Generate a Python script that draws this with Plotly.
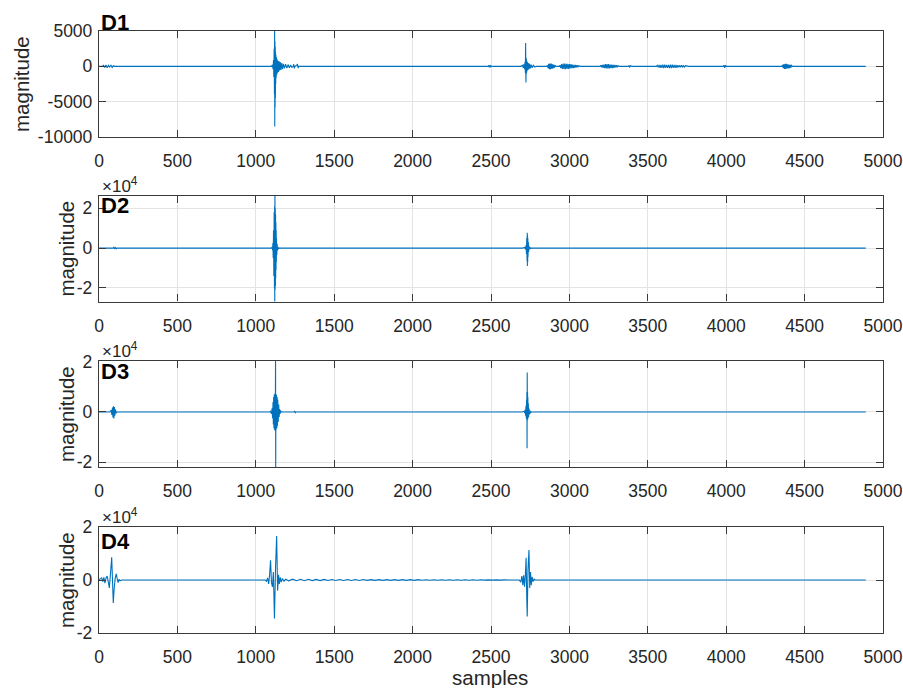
import plotly.graph_objects as go

# ---------------- data ----------------
# D1 bursts (sample index, magnitude)
d1_b0_x = [0, 20, 28, 36, 44, 52, 60, 68, 76, 84, 92, 100]
d1_b0_y = [0, 0, 150, -150, 200, -200, 150, -100, 150, -150, 100, 0]
d1_b1_x = [1100, 1106, 1110, 1113, 1115, 1117, 1119, 1120, 1121, 1122, 1123, 1124, 1125, 1126, 1127, 1128]
d1_b1_y = [0, 200, -400, 900, -1500, 2500, -4000, 5300, -8500, 3600, -5800, 2800, -4500, 2000, -2500, 1600]
d1_b2_x = [1130, 1132, 1134, 1136, 1139, 1142, 1145, 1148, 1152, 1156, 1160, 1165, 1170, 1176, 1182,
           1190, 1198, 1206, 1214, 1222, 1230, 1238, 1242, 1246, 1250, 1266, 1270, 1274, 1290]
d1_b2_y = [-1600, 1300, -1200, 1000, -900, 800, -800, 700, -600, 600, -500, 450, -400, 350, -300,
           300, -250, 250, -200, 200, -150, 0, 300, -300, 0, 250, -250, 0, 0]
d1_b3_x = [2480, 2486, 2489, 2492, 2495, 2498, 2504]
d1_b3_y = [0, 150, -150, 150, -150, 100, 0]
d1_b4_x = [2690, 2700, 2706, 2710, 2714, 2717, 2719, 2720, 2721, 2722, 2723, 2724, 2725, 2726, 2727, 2728,
           2730, 2732, 2735, 2738, 2742, 2746, 2750, 2756, 2762, 2770, 2780, 2790]
d1_b4_y = [0, 150, -200, 300, -400, 600, -900, 1300, 3300, -1300, -2300, 1200, -1100, 1000, -900, 800,
           -700, 600, -500, 450, -400, 350, -300, 250, -200, 150, -100, 0]
d1_b5_x = [2855, 2860, 2864, 2868, 2872, 2876, 2880, 2884, 2888, 2892, 2896, 2900, 2904, 2908, 2914, 2935,
           2940, 2945, 2950, 2955, 2960, 2965, 2970, 2975, 2980, 2985, 2990, 2995, 3000, 3005, 3010,
           3015, 3020, 3025, 3030, 3035, 3040, 3045, 3050, 3055, 3060, 3070]
d1_b5_y = [0, 150, -250, 350, -400, 400, -400, 400, -350, 300, -300, 250, -200, 150, 0, 0,
           150, -250, 300, -350, 400, -400, 400, -400, 350, -350, 350, -350, 300, -300, 300,
           -250, 250, -250, 200, -200, 200, -150, 150, -150, 100, 0]
d1_b6_x = [3195, 3200, 3205, 3210, 3215, 3220, 3225, 3230, 3235, 3240, 3245, 3250, 3255, 3260, 3265,
           3270, 3275, 3280, 3285, 3290, 3295, 3300, 3305, 3310, 3320, 3375, 3380, 3385, 3390, 3400]
d1_b6_y = [0, 150, -150, 200, -200, 250, -250, 300, -300, 300, -300, 300, -300, 250, -250,
           250, -250, 200, -200, 200, -150, 150, -150, 100, 0, 0, 100, -100, 80, 0]
d1_b7_x = [3555, 3560, 3566, 3572, 3578, 3584, 3590, 3596, 3602, 3608, 3614, 3620, 3626, 3632, 3638,
           3644, 3650, 3656, 3662, 3668, 3674, 3680, 3686, 3692, 3698, 3704, 3710, 3716, 3722, 3728,
           3734, 3740, 3760]
d1_b7_y = [0, 150, -150, 200, -200, 200, -200, 250, -250, 250, -200, 200, -200, 200, -250,
           250, -250, 250, -200, 200, -200, 200, -200, 150, -150, 150, -150, 150, -100, 100,
           -100, 100, 0]
d1_b8_x = [3980, 3985, 3990, 3995, 4000, 4355, 4360, 4364, 4368, 4372, 4376, 4380, 4384, 4388, 4392,
           4396, 4400, 4404, 4408, 4412, 4416, 4424, 4890]
d1_b8_y = [0, 150, -200, 150, 0, 0, 200, -250, 300, -350, 350, -350, 350, -300, 300,
           -300, 250, -250, 200, -200, 150, 0, 0]

# D2 bursts
d2_b0_x = [0, 90, 95, 100, 105, 110, 115]
d2_b0_y = [0, 0, 400, -400, 300, -300, 0]
d2_b1_x = [1100, 1104, 1107, 1109, 1111, 1113, 1115, 1117, 1119, 1120, 1121, 1122, 1123, 1124,
           1125, 1126, 1127, 1128, 1129, 1130, 1131, 1132, 1134, 1136, 1138, 1141, 1145, 1150]
d2_b1_y = [0, 500, -1000, 2500, -5000, 9000, -14000, 18000, -20000, 21000, -32000, 32000, -21000, 20000,
           -19000, 17000, -15000, 13000, -11000, 9000, -7000, 5000, -3500, 2000, -1200, 600, -300, 0]
d2_b2_x = [2700, 2715, 2720, 2724, 2726, 2728, 2730, 2731, 2732, 2733, 2734, 2735, 2736, 2738,
           2740, 2742, 2745, 2748, 2752, 2758, 4890]
d2_b2_y = [0, 300, -600, 1500, -3000, 5000, -6500, 7700, -9000, 6500, -7000, 5000, -4500, 3000,
           -2000, 1200, -700, 400, -200, 0, 0]

# D3 bursts
d3_b0_x = [0, 70, 78, 82, 86, 89, 92, 95, 98, 101, 105, 110, 115]
d3_b0_y = [0, 0, 800, -1200, 1800, -2200, 2300, -2600, 2000, -1500, 1000, -500, 0]
d3_b1_x = [1090, 1095, 1100, 1104, 1107, 1110, 1112, 1114, 1116, 1118, 1120, 1122, 1124, 1126, 1127,
           1128, 1130, 1132, 1134, 1136, 1138, 1140, 1143, 1146, 1149, 1152, 1156, 1160, 1166,
           1244, 1248, 1252, 1256]
d3_b1_y = [0, 300, -700, 1500, -2500, 4000, -5000, 6000, -6500, 7000, -7200, 7400, -7500, 20500, -23000,
           7200, -7000, 6800, -6500, 6000, -5500, 5000, -4000, 3000, -2000, 1200, -600, 300, 0,
           0, 300, -300, 0]
d3_b2_x = [2700, 2712, 2716, 2719, 2721, 2723, 2725, 2727, 2728, 2729, 2730, 2731, 2732, 2733, 2734,
           2735, 2736, 2738, 2740, 2742, 2745, 2748, 2752, 2758, 4890]
d3_b2_y = [0, 300, -500, 1000, -1500, 2500, -2500, 5000, -3000, 8000, -14400, 15700, -3300, 8000, -3000,
           6000, -2500, 3500, -2000, 1500, -1000, 600, -300, 0, 0]

# D4 bursts
d4_b0_x = [0, 10, 17, 24, 31, 38, 45, 52, 60, 66, 74, 81, 86, 91, 97, 104, 110, 116, 122, 128, 134, 145]
d4_b0_y = [0, 500, 800, -600, 1000, -1200, 800, 1500, -1000, -3000, 3000, 8600, 0, -8700, -3000, 1000,
           2300, 500, -1000, 300, -300, 0]
d4_b1_x = [1060, 1068, 1075, 1082, 1088, 1094, 1100, 1106, 1112, 1119, 1126, 1133, 1139, 1145, 1150,
           1156, 1162, 1170, 1180, 1190]
d4_b1_y = [0, -500, 800, -1500, 2000, 7400, -1000, -2600, 3000, -14500, 5000, 16600, -4000, 2000, -1500,
           1000, -800, 600, -500, 300]
d4_ring_start = 1210
d4_ring_step = 25
d4_ring_y = [-300, 300, -280, 280, -260, 260, -240, 240, -220, 220, -200, 200, -190, 190, -180, 180,
             -170, 170, -160, 160, -150, 150, -150, 150, -140, 140, -140, 140, -130, 130, -120, 120,
             -120, 120, -110, 110, -100, 100, -100, 100, -90, 90, -90, 90, -80, 80, -80, 80,
             -70, 70, -60, 60, -50, 50, -40, 40, 0]
d4_b2_x = [2680, 2690, 2697, 2703, 2708, 2714, 2719, 2724, 2728, 2731, 2736, 2742, 2747, 2752, 2757,
           2762, 2768, 2775, 2782, 4890]
d4_b2_y = [0, -800, 1500, -2000, 1800, -2500, 2000, 8400, -6800, -13800, 4000, 11300, -3000, 3000, -2000,
           1200, -600, 300, 0, 0]

x_ticks = [0, 500, 1000, 1500, 2000, 2500, 3000, 3500, 4000, 4500, 5000]
x_ticktext = ["0", "500", "1000", "1500", "2000", "2500", "3000", "3500", "4000", "4500", "5000"]
d1_yticks = [-10000, -5000, 0, 5000]
d1_yticktext = ["-10000", "-5000", "0", "5000"]
dn_yticks = [-20000, 0, 20000]
dn_yticktext = ["-2", "0", "2"]
panel_names = ["D1", "D2", "D3", "D4"]
y_ranges = [[-10000, 5000], [-26800, 26400], [-21900, 20300], [-20000, 20000]]


def join(pairs):
    xs, ys = [], []
    for bx, by in pairs:
        assert len(bx) == len(by), (len(bx), len(by))
        xs += list(bx)
        ys += list(by)
    return xs, ys


d4_ring_x = [d4_ring_start + d4_ring_step * i for i in range(len(d4_ring_y))]

series = [
    join([(d1_b0_x, d1_b0_y), (d1_b1_x, d1_b1_y), (d1_b2_x, d1_b2_y), (d1_b3_x, d1_b3_y),
          (d1_b4_x, d1_b4_y), (d1_b5_x, d1_b5_y), (d1_b6_x, d1_b6_y), (d1_b7_x, d1_b7_y),
          (d1_b8_x, d1_b8_y)]),
    join([(d2_b0_x, d2_b0_y), (d2_b1_x, d2_b1_y), (d2_b2_x, d2_b2_y)]),
    join([(d3_b0_x, d3_b0_y), (d3_b1_x, d3_b1_y), (d3_b2_x, d3_b2_y)]),
    join([(d4_b0_x, d4_b0_y), (d4_b1_x, d4_b1_y), (d4_ring_x, d4_ring_y), (d4_b2_x, d4_b2_y)]),
]

# ---------------- layout (screen-pixel geometry) ----------------
W, H = 903, 688
X0, X1 = 99, 883
panels_px = [(31, 137), (195.5, 301.5), (361, 467), (527, 633)]

FONT = "Liberation Sans, Arial, Helvetica, sans-serif"
TXT = "#262626"
LINEC = "#0072BD"
TICKSIZE = 17.5


def xp(p):
    return p / W


def yp(p):
    return 1 - p / H


fig = go.Figure()
layout = dict(
    width=W, height=H, autosize=False,
    margin=dict(l=0, r=0, t=0, b=0, pad=0, autoexpand=False),
    paper_bgcolor="white", plot_bgcolor="white", showlegend=False,
    font=dict(family=FONT, size=TICKSIZE, color=TXT),
)
annotations = []

for i, ((sx, sy), (top, bot)) in enumerate(zip(series, panels_px)):
    n = "" if i == 0 else str(i + 1)
    fig.add_trace(go.Scatter(x=sx, y=sy, mode="lines", xaxis="x" + n, yaxis="y" + n,
                             line=dict(color=LINEC, width=1.1, simplify=False),
                             hoverinfo="skip"))
    axcommon = dict(showline=True, linecolor="#3a3a3a", linewidth=1.3, mirror="ticks",
                    ticks="inside", ticklen=7, tickwidth=1.3, tickcolor="#3a3a3a",
                    showgrid=True, gridcolor="#e3e3e3", gridwidth=1, zeroline=False,
                    automargin=False, ticklabeloverflow="allow",
                    tickfont=dict(family=FONT, size=TICKSIZE, color=TXT))
    layout["xaxis" + n] = dict(axcommon, domain=[xp(X0), xp(X1)], range=[0, 5000],
                               tickvals=x_ticks, ticktext=x_ticktext,
                               anchor="y" + n, ticklabelstandoff=8)
    if i == 0:
        yt, ytt = d1_yticks, d1_yticktext
    else:
        yt, ytt = dn_yticks, dn_yticktext
    layout["yaxis" + n] = dict(axcommon, domain=[yp(bot), yp(top)], range=y_ranges[i],
                               tickvals=yt, ticktext=ytt, anchor="x" + n, ticklabelstandoff=2)

    # panel label
    title_y = [23, 205.5, 371, 541][i]
    annotations.append(dict(text="<b>%s</b>" % panel_names[i], xref="paper", yref="paper",
                            x=xp(99), y=yp(title_y), xanchor="left", yanchor="middle",
                            showarrow=False, font=dict(family=FONT, size=22, color="black")))
    # y label
    ylab_x = [21, 66, 66, 66][i]
    annotations.append(dict(text="magnitude", xref="paper", yref="paper",
                            x=xp(ylab_x), y=yp((top + bot) / 2), xanchor="center", yanchor="middle",
                            textangle=-90, showarrow=False,
                            font=dict(family=FONT, size=20.5, color=TXT)))
    if i > 0:
        annotations.append(dict(text="×10<sup>4</sup>", xref="paper", yref="paper",
                                x=xp(100), y=yp(top + 2), xanchor="left", yanchor="bottom",
                                showarrow=False, font=dict(family=FONT, size=17, color=TXT)))

annotations.append(dict(text="samples", xref="paper", yref="paper", x=xp(490), y=yp(677),
                        xanchor="center", yanchor="middle", showarrow=False,
                        font=dict(family=FONT, size=20.5, color=TXT)))
layout["annotations"] = annotations
fig.update_layout(**layout)
fig.write_html(
    "out.html",
    config={"displayModeBar": False},
    post_script="document.body.style.margin='0';document.body.style.overflow='hidden';",
)
